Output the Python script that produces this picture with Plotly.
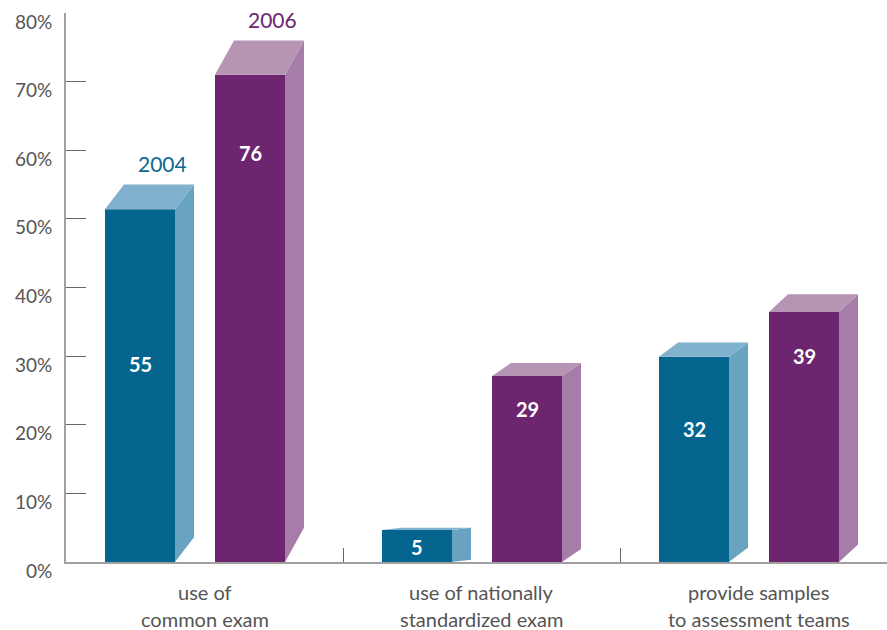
import plotly.graph_objects as go

# ---- data ----
categories = [["use of", "common exam"],
              ["use of nationally", "standardized exam"],
              ["provide samples", "to assessment teams"]]
years = ["2004", "2006"]
values_2004 = [55, 5, 32]
values_2006 = [76, 29, 39]
y_ticks = [0, 10, 20, 30, 40, 50, 60, 70, 80]
# vertical position (in % units) of the value label inside each bar
label_y_2004 = [28.8, 2.2, 19.4]
label_y_2006 = [59.6, 22.3, 30.0]

# ---- styles / geometry ----
colors = {
    "2004": {"front": "#04658F", "side": "#68A3C1", "top": "#80B1CD", "text": "#0B6893"},
    "2006": {"front": "#6C256E", "side": "#A67CA8", "top": "#B595B3", "text": "#6C256E"},
}
CAT_PX = 277.0                 # pixels per category unit
BAR_W = 70 / CAT_PX            # front face width
DX = 19 / CAT_PX               # depth in x
DEPTH_K = 0.0656               # depth in y, proportional to bar value
OFFSETS = {"2004": -99.5 / CAT_PX, "2006": 10.5 / CAT_PX}
FONT = "Lato, 'Open Sans', sans-serif"
GREY = "#555555"

fig = go.Figure()


def add_bar(xc, v, year):
    c = colors[year]
    xl = xc + OFFSETS[year]
    xr = xl + BAR_W
    d = DEPTH_K * v
    h = v - d
    # front face
    fig.add_trace(go.Scatter(x=[xl, xr, xr, xl, xl], y=[0, 0, h, h, 0],
                             fill="toself", fillcolor=c["front"], mode="lines",
                             line=dict(width=0, color=c["front"]), hoverinfo="skip"))
    # side face
    fig.add_trace(go.Scatter(x=[xr, xr + DX, xr + DX, xr, xr], y=[0, d, v, h, 0],
                             fill="toself", fillcolor=c["side"], mode="lines",
                             line=dict(width=0, color=c["side"]), hoverinfo="skip"))
    # top face
    fig.add_trace(go.Scatter(x=[xl, xr, xr + DX, xl + DX, xl], y=[h, h, v, v, h],
                             fill="toself", fillcolor=c["top"], mode="lines",
                             line=dict(width=0, color=c["top"]), hoverinfo="skip"))
    return xl, xr


annotations = []
for i, cat in enumerate(categories):
    for year, vals, ly in (("2004", values_2004, label_y_2004),
                           ("2006", values_2006, label_y_2006)):
        v = vals[i]
        xl, xr = add_bar(i, v, year)
        annotations.append(dict(x=(xl + xr) / 2, y=ly[i], xref="x", yref="y",
                                text="<b>%d</b>" % v, showarrow=False,
                                font=dict(family=FONT, size=20, color="white"),
                                xanchor="center", yanchor="middle"))
        if i == 0:
            annotations.append(dict(x=(xl + xr) / 2 + DX + 3 / CAT_PX, y=v, xref="x", yref="y",
                                    text=year, showarrow=False, yshift=21,
                                    font=dict(family=FONT, size=21, color=colors[year]["text"]),
                                    xanchor="center", yanchor="middle"))
    for k, line in enumerate(cat):
        annotations.append(dict(x=i, y=0, xref="x", yref="y", text=line,
                                showarrow=False, yshift=-30 - 27 * k,
                                font=dict(family=FONT, size=20, color=GREY),
                                xanchor="center", yanchor="middle"))

# y tick labels (drawn as annotations so they can sit slightly below their ticks)
for t in y_ticks:
    annotations.append(dict(x=0, y=t, xref="paper", yref="y", text="%d%%" % t,
                            showarrow=False, xanchor="right", yanchor="middle",
                            xshift=-12, yshift=-8,
                            font=dict(family=FONT, size=19, color=GREY)))

W, H = 887, 630
ML, MR, MT, MB = 66, 0, 13, 68
x_right = -0.5 + (W - ML - MR) / CAT_PX

fig.update_layout(
    width=W, height=H,
    margin=dict(l=ML, r=MR, t=MT, b=MB, pad=0),
    paper_bgcolor="white", plot_bgcolor="white",
    showlegend=False,
    annotations=annotations,
    xaxis=dict(range=[-0.5, x_right], showgrid=False, zeroline=False,
               showline=True, linecolor="#a0a0a0", linewidth=2,
               tickvals=[0.5, 1.5], ticks="inside", ticklen=14,
               tickcolor="#666666", tickwidth=1, showticklabels=False, fixedrange=True),
    yaxis=dict(range=[0, 80], showgrid=False, zeroline=False,
               showline=True, linecolor="#a0a0a0", linewidth=1.5,
               tickvals=y_ticks, ticks="inside", ticklen=20,
               tickcolor="#666666", tickwidth=1,
               showticklabels=False, fixedrange=True),
)

fig.write_html("out.html")
